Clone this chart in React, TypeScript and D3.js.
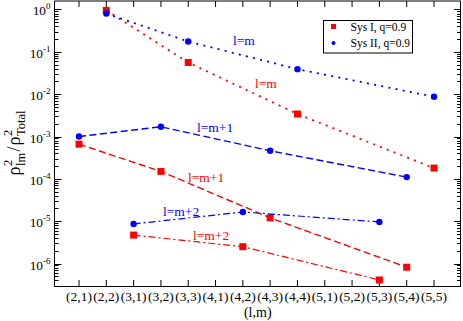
import React from "react";
import * as d3 from "d3";

const categories = ["(2,1)", "(2,2)", "(3,1)", "(3,2)", "(3,3)", "(4,1)", "(4,2)", "(4,3)", "(4,4)", "(5,1)", "(5,2)", "(5,3)", "(5,4)", "(5,5)"];

const lmCats = ["(2,2)", "(3,3)", "(4,4)", "(5,5)"];
const sysILm = [0.95, 0.056, 0.0034, 1.8e-4];
const sysIILm = [0.8, 0.175, 0.039, 0.0087];

const lm1Cats = ["(2,1)", "(3,2)", "(4,3)", "(5,4)"];
const sysILm1 = [6.6e-4, 1.5e-4, 1.2e-5, 8.2e-7];
const sysIILm1 = [1.0e-3, 1.7e-3, 4.6e-4, 1.1e-4];

const lm2Cats = ["(3,1)", "(4,2)", "(5,3)"];
const sysILm2 = [4.7e-6, 2.5e-6, 4.1e-7];
const sysIILm2 = [8.6e-6, 1.65e-5, 9.6e-6];

const yExponents = [0, -1, -2, -3, -4, -5, -6];
const legendLabels = ["Sys I, q=0.9", "Sys II, q=0.9"];

const W = 463, H = 321;
const L = 54.5, R = 461, T = 1, B = 286;
const FONT = "'Liberation Serif', 'Times New Roman', serif";
const RED = "#ff0000", BLUE = "#0000ff";

export default function App() {
  const x = d3.scalePoint<string>().domain(categories).range([79, 434]);
  const y = d3.scaleLog().domain([Math.pow(10, -6.53), Math.pow(10, 0.2)]).range([B, T]);

  const line = d3.line<[string, number]>().x(d => x(d[0]) as number).y(d => y(d[1]));

  const series = [
    { cats: lmCats, vals: sysILm, color: RED, dash: "2 5.3", sw: 1.8, kind: "sq" },
    { cats: lmCats, vals: sysIILm, color: BLUE, dash: "2 5.3", sw: 1.8, kind: "ci" },
    { cats: lm1Cats, vals: sysILm1, color: RED, dash: "7 3.5", sw: 1.4, kind: "sq" },
    { cats: lm1Cats, vals: sysIILm1, color: BLUE, dash: "7 3.5", sw: 1.4, kind: "ci" },
    { cats: lm2Cats, vals: sysILm2, color: RED, dash: "7 3 2 3", sw: 1.2, kind: "sq" },
    { cats: lm2Cats, vals: sysIILm2, color: BLUE, dash: "7 3 2 3", sw: 1.2, kind: "ci" },
  ];

  const minor: number[] = [];
  for (let e = -7; e <= 0; e++) {
    for (let k = 2; k <= 9; k++) {
      const v = k * Math.pow(10, e);
      const [d0, d1] = y.domain();
      if (v > d0 && v < d1) minor.push(v);
    }
  }

  const labels = [
    { t: "l=m", x: 233, y: 45, c: BLUE },
    { t: "l=m", x: 255, y: 88, c: RED },
    { t: "l=m+1", x: 197, y: 132, c: BLUE },
    { t: "l=m+1", x: 188, y: 182, c: RED },
    { t: "l=m+2", x: 163, y: 216, c: BLUE },
    { t: "l=m+2", x: 193, y: 240, c: RED },
  ];

  return (
    <svg width={W} height={H} style={{ position: "absolute", left: 0, top: 0, background: "#fff" }} fontFamily={FONT}>
      <rect x={0} y={0} width={W} height={H} fill="#fff" />
      {/* frame */}
      <line x1={L} x2={R} y1={T} y2={T} stroke="#000" strokeWidth={1} />
      <line x1={L} x2={R} y1={B + 0.5} y2={B + 0.5} stroke="#000" strokeWidth={1} />
      <line x1={L} x2={L} y1={T} y2={B + 1} stroke="#000" strokeWidth={1} />
      <line x1={R - 0.5} x2={R - 0.5} y1={T} y2={B + 1} stroke="#000" strokeWidth={1} />

      {/* x ticks */}
      {categories.map(c => (
        <g key={c}>
          <line x1={x(c)} x2={x(c)} y1={B} y2={B - 6} stroke="#000" />
          <line x1={x(c)} x2={x(c)} y1={T} y2={T + 6} stroke="#000" />
          <text x={x(c)} y={301} fontSize={13.5} textAnchor="middle">{c}</text>
        </g>
      ))}
      <text x={(L + R) / 2} y={316.5} fontSize={14} textAnchor="middle">(l,m)</text>

      {/* y ticks */}
      {yExponents.map(e => {
        const yy = Math.round(y(Math.pow(10, e))) + 0.5;
        return (
          <g key={e}>
            <line x1={L} x2={L + 7} y1={yy} y2={yy} stroke="#000" />
            <line x1={R} x2={R - 7} y1={yy} y2={yy} stroke="#000" />
            <text x={50.5} y={yy + 5.5} fontSize={13.3} textAnchor="end">
              <tspan>10</tspan>
              <tspan fontSize={9} dy={-6}>{e === 0 ? "0" : String(e)}</tspan>
            </text>
          </g>
        );
      })}
      {minor.map((v, i) => {
        const yy = Math.round(y(v)) + 0.5;
        return (
          <g key={i}>
            <line x1={L} x2={L + 4} y1={yy} y2={yy} stroke="#000" />
            <line x1={R} x2={R - 4} y1={yy} y2={yy} stroke="#000" />
          </g>
        );
      })}

      {/* y title */}
      <g transform={`translate(20, ${(T + B) / 2 - 2}) rotate(-90)`}>
        <text x={-34} y={0} fontSize={18}>ρ</text>
        <text x={-24.5} y={-8} fontSize={12.5}>2</text>
        <text x={-24.5} y={4.5} fontSize={12.5}>lm</text>
        <text x={-10} y={0} fontSize={18}>/</text>
        <text x={-4} y={0} fontSize={18}>ρ</text>
        <text x={5.5} y={-8} fontSize={12.5}>2</text>
        <text x={5.5} y={4.5} fontSize={12.5}>Total</text>
      </g>

      {/* series */}
      {series.map((s, i) => {
        const pts: [string, number][] = s.cats.map((c, j) => [c, s.vals[j]]);
        return (
          <g key={i}>
            <path d={line(pts) || ""} fill="none" stroke={s.color} strokeWidth={s.sw} strokeDasharray={s.dash} />
            {pts.map((p, j) =>
              s.kind === "sq" ? (
                <rect key={j} x={(x(p[0]) as number) - 3.5} y={y(p[1]) - 3.5} width={7} height={7} fill={s.color} />
              ) : (
                <circle key={j} cx={x(p[0]) as number} cy={y(p[1])} r={3.2} fill={s.color} />
              )
            )}
          </g>
        );
      })}

      {labels.map((l, i) => (
        <text key={i} x={l.x} y={l.y} fontSize={13.5} fill={l.c}>{l.t}</text>
      ))}

      {/* legend */}
      <rect x={323.5} y={20.5} width={89} height={32.5} fill="#fff" stroke="#000" strokeWidth={1} />
      <rect x={331} y={24} width={5} height={5} fill={RED} />
      <text x={350.5} y={30.5} fontSize={11.5}>{legendLabels[0]}</text>
      <circle cx={333.5} cy={43} r={2} fill={BLUE} />
      <text x={350.5} y={46.5} fontSize={11.5}>{legendLabels[1]}</text>
    </svg>
  );
}
